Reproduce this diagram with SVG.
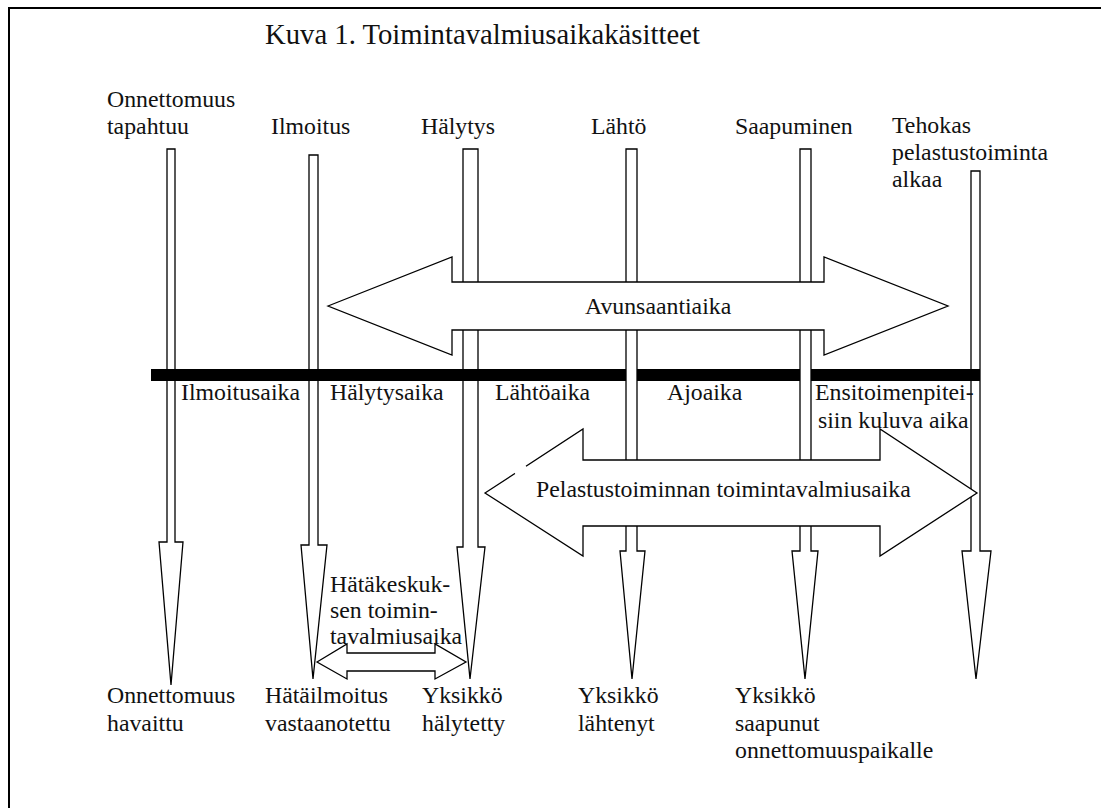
<svg xmlns="http://www.w3.org/2000/svg" width="1101" height="808" viewBox="0 0 1101 808">
<style>
.ar{fill:#fff;stroke:#000;stroke-width:1.3;stroke-linejoin:miter}
.t{font-family:"Liberation Serif","Times New Roman",serif;font-size:23.8px;fill:#111}
.title{font-family:"Liberation Serif","Times New Roman",serif;font-size:28.7px;fill:#111}
</style>
<rect width="1101" height="808" fill="#fff"/>
<path d="M9,820 V8 H1110" fill="none" stroke="#000" stroke-width="2"/>
<text class="title" x="265" y="44">Kuva 1. Toimintavalmiusaikakäsitteet</text>
<g id="connectors">
<g id="v1"><polygon class="ar" points="167,149 175,149 175,542 183,542 171,685 159,542 167,542"/></g>
<g id="v2"><polygon class="ar" points="309,155 318,155 318,545 327,545 313,679 301,545 309,545"/></g>
<g id="v3"><polygon class="ar" points="463,149 478,149 478,547 485,547 470,679 457,547 463,547"/></g>
<g id="v6"><polygon class="ar" points="971,171 980,171 980,551 991,551 976,679 962,551 971,551"/></g>
<rect id="timeline" x="151" y="369" width="829" height="12" fill="#000"/>
<g id="v4"><polygon class="ar" points="626,149 637,149 637,551 645,551 632,679 620,551 626,551"/></g>
<g id="v5"><polygon class="ar" points="800,149 811,149 811,551 818,551 805,679 792,551 800,551"/></g>
<g id="avun"><polygon class="ar" points="328,306 452,257 452,282 824,282 824,257 948,306 824,355 824,330 452,330 452,355"/></g>
<g id="pelas"><polygon class="ar" points="485,493 583,429 583,460 880,460 880,429 977,493 880,556 880,526 583,526 583,556"/>
<line x1="515" y1="473.4" x2="526" y2="466.2" stroke="#fff" stroke-width="3"/></g>
<g id="hata"><polygon class="ar" points="317,662 347,644 347,653 435,653 435,644 466,662 435,679 435,671 347,671 347,679"/></g>
</g>
<g id="top-labels">
<g id="n-onnettomuus-tapahtuu"><text class="t" x="107" y="107">Onnettomuus</text><text class="t" x="107" y="134">tapahtuu</text></g>
<g id="n-ilmoitus"><text class="t" x="271" y="134">Ilmoitus</text></g>
<g id="n-halytys"><text class="t" x="421" y="134">Hälytys</text></g>
<g id="n-lahto"><text class="t" x="591" y="134">Lähtö</text></g>
<g id="n-saapuminen"><text class="t" x="735" y="134">Saapuminen</text></g>
<g id="n-tehokas"><text class="t" x="892" y="133">Tehokas</text><text class="t" x="892" y="160">pelastustoiminta</text><text class="t" x="892" y="187">alkaa</text></g>
</g>
<g id="mid-labels">
<g id="n-ilmoitusaika"><text class="t" x="181" y="400">Ilmoitusaika</text></g>
<g id="n-halytysaika"><text class="t" x="330" y="400">Hälytysaika</text></g>
<g id="n-lahtoaika"><text class="t" x="495" y="400">Lähtöaika</text></g>
<g id="n-ajoaika"><text class="t" x="667" y="400">Ajoaika</text></g>
<g id="n-ensi"><text class="t" x="815" y="400">Ensitoimenpitei-</text><text class="t" x="818" y="428">siin kuluva aika</text></g>
<g id="n-avun"><text class="t" x="585" y="314">Avunsaantiaika</text></g>
<g id="n-pelas"><text class="t" x="536" y="497">Pelastustoiminnan toimintavalmiusaika</text></g>
<g id="n-hata"><text class="t" x="330" y="592">Hätäkeskuk-</text><text class="t" x="330" y="618">sen toimin-</text><text class="t" x="330" y="644">tavalmiusaika</text></g>
</g>
<g id="bottom-labels">
<g id="n-havaittu"><text class="t" x="107" y="703">Onnettomuus</text><text class="t" x="107" y="731">havaittu</text></g>
<g id="n-vastaanotettu"><text class="t" x="265" y="703">Hätäilmoitus</text><text class="t" x="265" y="731">vastaanotettu</text></g>
<g id="n-halytetty"><text class="t" x="422" y="703">Yksikkö</text><text class="t" x="422" y="731">hälytetty</text></g>
<g id="n-lahtenyt"><text class="t" x="578" y="703">Yksikkö</text><text class="t" x="578" y="731">lähtenyt</text></g>
<g id="n-saapunut"><text class="t" x="735" y="703">Yksikkö</text><text class="t" x="735" y="731">saapunut</text><text class="t" x="735" y="758">onnettomuuspaikalle</text></g>
</g>
</svg>
